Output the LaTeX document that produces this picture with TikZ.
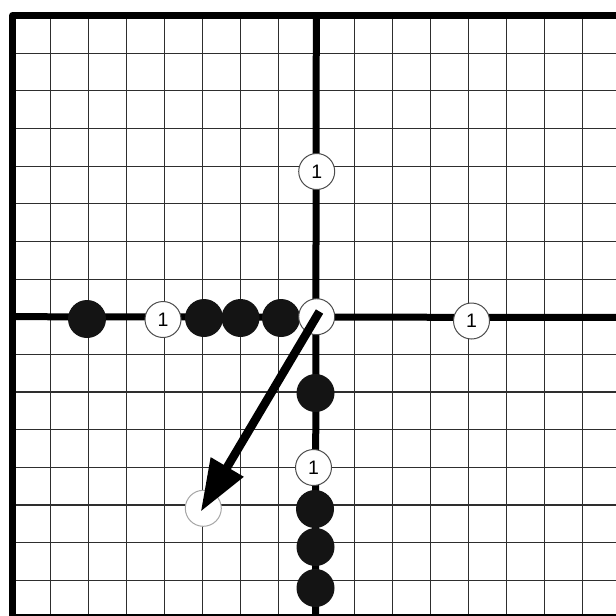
\documentclass[tikz,border=0pt]{standalone}
\usepackage{fontspec}
\setmainfont{Liberation Sans}
\usetikzlibrary{arrows.meta}
\begin{document}
\begin{tikzpicture}[x=1pt,y=-1pt,
  gridline/.style={draw=black!82, line width=1.1pt},
  heavy/.style={draw=black, line width=7pt, line join=round},
  axisline/.style={draw=black, line width=7pt},
  blackdot/.style={circle, fill=black!92, minimum size=38pt, inner sep=0pt},
  numdot/.style={circle, draw=black!70, line width=1pt, fill=white, minimum size=36pt, inner sep=0pt, font=\fontsize{19.5}{19.5}\selectfont},
  ghostdot/.style={circle, draw=black!35, line width=1pt, fill=white, minimum size=36pt, inner sep=0pt},
  vecarrow/.style={draw=black, line width=8.5pt, -{Triangle[length=52pt,width=36pt]}}]
\useasboundingbox (0,0) rectangle (616,616);
\fill[white] (0,0) rectangle (616,616);
% grid
\foreach \k in {1,...,15} {
  \draw[gridline] ({12.7+38*\k},15.5) -- ({12.7+38*\k},620);
  \draw[gridline] (12.7,{15.5+37.65*\k}) -- (620,{15.5+37.65*\k});
}
% frame
\coordinate (fb) at (12.7,620);
\coordinate (fc) at (12.7,15.5);
\coordinate (fr) at (620,15.5);
\draw[heavy] (fb) -- (fc) -- (fr);
\coordinate (bl) at (12.7,617);
\coordinate (br) at (620,617);
\draw[heavy] (bl) -- (br);
% axes
\coordinate (vt) at (316.3,15.5);
\coordinate (vb) at (315.5,620);
\coordinate (hl) at (12.7,316.7);
\coordinate (hr) at (620,317.5);
\draw[axisline] (vt) -- (vb);
\draw[axisline] (hl) -- (hr);
% beads on the horizontal axis
\node[blackdot] (h6) at (87,319) {};
\node[numdot]   (h4) at (163,319.5) {1};
\node[blackdot] (h3) at (204,318) {};
\node[blackdot] (h2) at (240.5,318) {};
\node[blackdot] (h1) at (281,318) {};
\node[numdot]   (p4) at (471.5,321) {1};
% beads on the vertical axis
\node[numdot]   (u4) at (316.7,171.5) {1};
\node[blackdot] (d2) at (315.5,393) {};
\node[numdot]   (d4) at (313.5,467.5) {1};
\node[blackdot] (d5) at (315,509) {};
\node[blackdot] (d6) at (315.5,547) {};
\node[blackdot] (d7) at (315.5,588) {};
% origin and end point
\node[numdot] (o) at (316.7,316.7) {};
\node[ghostdot] (e) at (203.3,508.3) {};
% vector
\coordinate (as) at (319.5,311.5);
\coordinate (at) at (200.7,511.7);
\draw[vecarrow] (as) -- (at);
\end{tikzpicture}
\end{document}
